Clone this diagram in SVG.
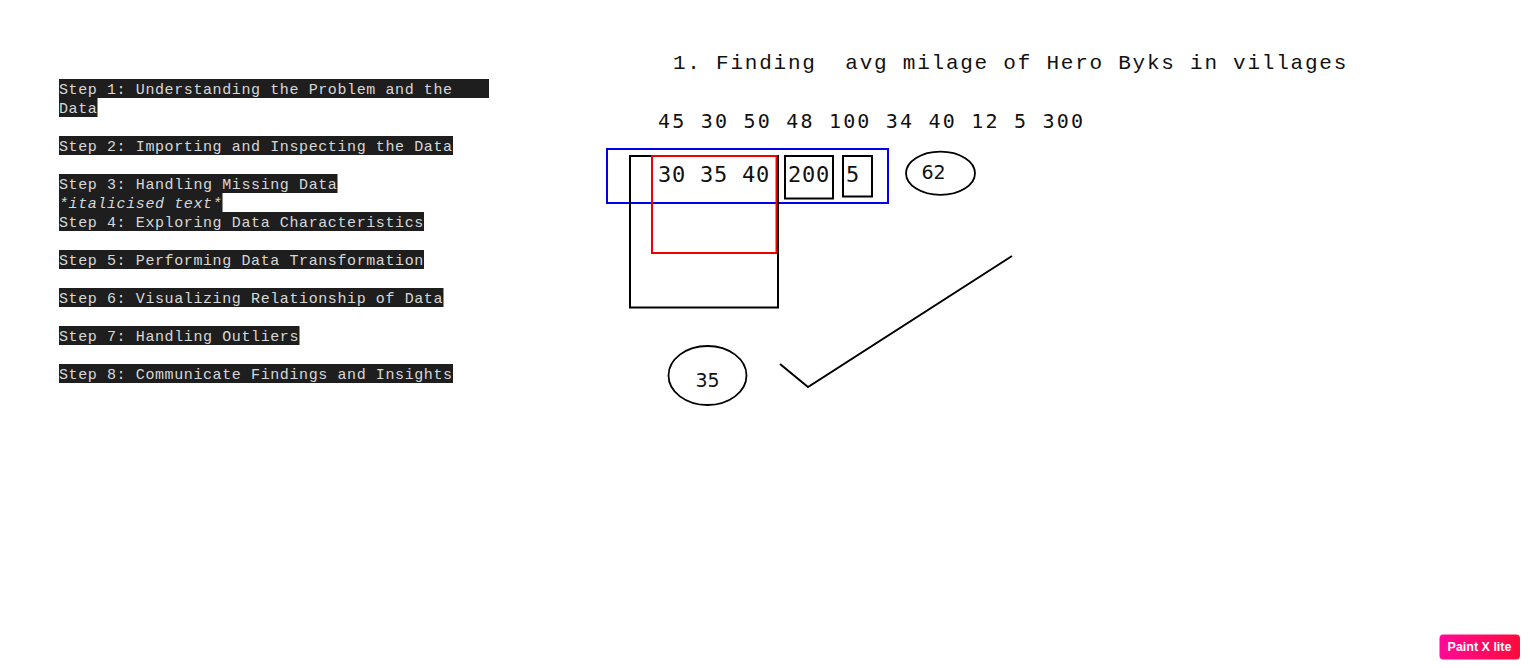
<svg xmlns="http://www.w3.org/2000/svg" width="1530" height="668" viewBox="0 0 1530 668">
<style>
.bar{fill:#1e1e1e}
.step{font-family:"Courier New","Liberation Mono",monospace;font-size:15px;letter-spacing:0.6px;fill:#d8d8d8;white-space:pre}
.ital{font-style:italic}
.title{font-family:"Courier New","Liberation Mono",monospace;font-size:21px;letter-spacing:1.76px;fill:#111;white-space:pre}
.nums{font-family:"DejaVu Sans Mono",monospace;fill:#111;white-space:pre}
.box{fill:none;stroke:#000;stroke-width:2}
.oval{fill:none;stroke:#000;stroke-width:1.8}
.olab{font-family:"DejaVu Sans",sans-serif;font-size:19px;fill:#111}
</style>
<defs>
<linearGradient id="pxg" x1="0" y1="0" x2="1" y2="0">
<stop offset="0" stop-color="#ff0a96"/>
<stop offset="1" stop-color="#ff0a3c"/>
</linearGradient>
</defs>
<rect width="1530" height="668" fill="#fff"/>

<g id="steps">
<g id="step1">
<rect class="bar" x="59" y="79" width="430" height="19"/>
<rect class="bar" x="59" y="98" width="38.5" height="19"/>
<text class="step" x="59" y="94">Step 1: Understanding the Problem and the</text>
<text class="step" x="59" y="113">Data</text>
</g>
<g id="step2">
<rect class="bar" x="59" y="136" width="394" height="19"/>
<text class="step" x="59" y="151">Step 2: Importing and Inspecting the Data</text>
</g>
<g id="step3">
<rect class="bar" x="59" y="174" width="278.5" height="19"/>
<text class="step" x="59" y="189">Step 3: Handling Missing Data</text>
<rect class="bar" x="59" y="193" width="163.5" height="19"/>
<text class="step ital" x="59" y="208">*italicised text*</text>
</g>
<g id="step4">
<rect class="bar" x="59" y="212" width="365" height="19"/>
<text class="step" x="59" y="227">Step 4: Exploring Data Characteristics</text>
</g>
<g id="step5">
<rect class="bar" x="59" y="250" width="365" height="19"/>
<text class="step" x="59" y="265">Step 5: Performing Data Transformation</text>
</g>
<g id="step6">
<rect class="bar" x="59" y="288" width="384.5" height="19"/>
<text class="step" x="59" y="303">Step 6: Visualizing Relationship of Data</text>
</g>
<g id="step7">
<rect class="bar" x="59" y="326" width="240.5" height="19"/>
<text class="step" x="59" y="341">Step 7: Handling Outliers</text>
</g>
<g id="step8">
<rect class="bar" x="59" y="364" width="394" height="19"/>
<text class="step" x="59" y="379">Step 8: Communicate Findings and Insights</text>
</g>
</g>

<g id="title">
<text class="title" x="673" y="69">1. Finding  avg milage of Hero Byks in villages</text>
</g>

<g id="data-line">
<text class="nums" x="658" y="127.5" style="font-size:20px;letter-spacing:2.2px">45 30 50 48 100 34 40 12 5 300</text>
</g>

<g id="blue-group">
<rect x="607" y="149" width="281" height="54" fill="none" stroke="#0000ee" stroke-width="2"/>
</g>
<g id="big-box">
<rect class="box" x="630" y="156" width="148" height="151.5"/>
</g>
<g id="red-box">
<rect x="652" y="156" width="124.5" height="97" fill="none" stroke="#ee0000" stroke-width="2"/>
<text class="nums" x="658" y="182" style="font-size:22px;letter-spacing:0.76px">30 35 40</text>
</g>
<g id="box-200">
<rect class="box" x="785" y="156" width="48" height="42.5"/>
<text class="nums" x="788" y="182" style="font-size:22px;letter-spacing:0.76px">200</text>
</g>
<g id="box-5">
<rect class="box" x="843" y="156" width="29" height="40.5"/>
<text class="nums" x="846" y="182" style="font-size:22px;letter-spacing:0.76px">5</text>
</g>
<g id="oval-62">
<ellipse class="oval" cx="940.5" cy="173.3" rx="34.5" ry="21.6"/>
<text class="olab" x="921.5" y="178.5">62</text>
</g>
<g id="oval-35">
<ellipse class="oval" cx="707.5" cy="375.5" rx="39" ry="29.5"/>
<text class="olab" x="695.5" y="387">35</text>
</g>

<g id="connectors">
<polyline points="780,364 808,387 1012,256" fill="none" stroke="#000" stroke-width="2"/>
</g>

<g id="watermark">
<rect x="1439.5" y="634.5" width="80.5" height="25" rx="4" fill="url(#pxg)"/>
<text x="1479.5" y="651" text-anchor="middle" font-family="'Liberation Sans',sans-serif" font-weight="bold" font-size="12.5" fill="#fff">Paint X lite</text>
</g>
</svg>
